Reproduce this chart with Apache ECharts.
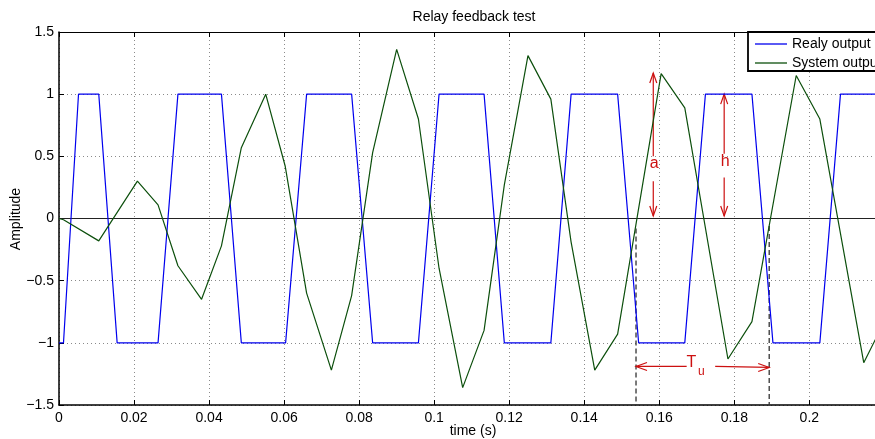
<!DOCTYPE html>
<html>
<head>
<meta charset="utf-8">
<script src="https://cdn.jsdelivr.net/npm/echarts@6/dist/echarts.min.js"></script>
<style>
html,body{margin:0;padding:0;background:#fff;}
#c{width:875px;height:439px;}
</style>
</head>
<body>
<div id="c"></div>
<script>
// ---- data ----
const relayT = [0, 0.0012, 0.0052, 0.0106, 0.0155, 0.0264, 0.0317, 0.0433, 0.0486, 0.0604, 0.0660, 0.0780, 0.0836, 0.0958, 0.1013, 0.1133, 0.1187, 0.1311, 0.1365, 0.1489, 0.1545, 0.1668, 0.1723, 0.1847, 0.1903, 0.2028, 0.2083, 0.2208];
const relayY = [-1, -1, 1, 1, -1, -1, 1, 1, -1, -1, 1, 1, -1, -1, 1, 1, -1, -1, 1, 1, -1, -1, 1, 1, -1, -1, 1, 1];
const systemT = [0, 0.0012, 0.0106, 0.0209, 0.0264, 0.0317, 0.0380, 0.0433, 0.0486, 0.0551, 0.0603, 0.0660, 0.0726, 0.0780, 0.0836, 0.0900, 0.0958, 0.1013, 0.1076, 0.1133, 0.1187, 0.1250, 0.1311, 0.1365, 0.1428, 0.1489, 0.1605, 0.1668, 0.1783, 0.1847, 0.1965, 0.2028, 0.2145, 0.2208];
const systemY = [0, -0.01, -0.18, 0.30, 0.11, -0.38, -0.65, -0.22, 0.57, 1.00, 0.42, -0.60, -1.22, -0.62, 0.53, 1.36, 0.80, -0.40, -1.36, -0.90, 0.27, 1.31, 0.96, -0.19, -1.22, -0.93, 1.165, 0.89, -1.13, -0.83, 1.15, 0.80, -1.16, -0.78];
const seriesNames = ['Realy output', 'System output'];
const xTicks = { min: 0, max: 0.2175, step: 0.02 };
const yTicks = { min: -1.5, max: 1.5, step: 0.5 };

// annotation anchors (data coordinates)
const arrowA = { x: 0.1584, y0: 0.02, y1: 1.17, gapLo: 0.30, gapHi: 0.50, label: 'a', ly: 0.44 };
const arrowH = { x: 0.1773, y0: 0.02, y1: 1.0, gapLo: 0.33, gapHi: 0.52, label: 'h', ly: 0.46 };
const tuArrow = { x0: 0.1538, x1: 0.1893, y: -1.19, gapL: 0.1673, gapR: 0.1749, lx: 0.1707 };
const dashLines = [[0.1538, -0.08], [0.1893, -0.06]];

const relayData = relayT.map((t, i) => [t, relayY[i]]);
const systemData = systemT.map((t, i) => [t, systemY[i]]);

const RED = '#cc1010';
const FONT = 'Liberation Sans, Arial, Helvetica, sans-serif';
const fmtNum = v => String(+v.toFixed(2)).replace('-', '\u2212');

function vHead(tip, dir, len, hw) {
  return [[tip[0] - hw, tip[1] - dir * len], tip, [tip[0] + hw, tip[1] - dir * len]];
}
function hHead(tip, dir, len, hw) {
  return [[tip[0] - dir * len, tip[1] - hw], tip, [tip[0] - dir * len, tip[1] + hw]];
}

function renderAnn(params, api) {
  const ch = [];
  const ls = { stroke: RED, lineWidth: 1.2, fill: null };
  ch.push({ type: 'polyline', shape: { points: [api.coord([xTicks.min, 0]), api.coord([xTicks.max, 0])] }, style: { stroke: '#222', lineWidth: 1, fill: null } });
  dashLines.forEach(d => {
    ch.push({ type: 'polyline', shape: { points: [api.coord([d[0], d[1]]), api.coord([d[0], yTicks.min])] }, style: { stroke: '#333', lineWidth: 1.3, lineDash: [5, 3], fill: null } });
  });
  [arrowA, arrowH].forEach(a => {
    const top = api.coord([a.x, a.y1]), bot = api.coord([a.x, a.y0]);
    const gh = api.coord([a.x, a.gapHi]), gl = api.coord([a.x, a.gapLo]);
    ch.push({ type: 'polyline', shape: { points: [top, gh] }, style: ls });
    ch.push({ type: 'polyline', shape: { points: [gl, bot] }, style: ls });
    ch.push({ type: 'polyline', shape: { points: vHead(top, -1, 10, 3.5) }, style: ls });
    ch.push({ type: 'polyline', shape: { points: vHead(bot, 1, 10, 3.5) }, style: ls });
    const lp = api.coord([a.x, a.ly]);
    ch.push({ type: 'text', x: lp[0] + 1, y: lp[1], style: { text: a.label, fill: RED, font: '16px ' + FONT, align: 'center', verticalAlign: 'middle' } });
  });
  const L = api.coord([tuArrow.x0, tuArrow.y]), R = api.coord([tuArrow.x1, tuArrow.y]);
  const gL = api.coord([tuArrow.gapL, tuArrow.y]), gR = api.coord([tuArrow.gapR, tuArrow.y]);
  ch.push({ type: 'polyline', shape: { points: [L, gL] }, style: ls });
  ch.push({ type: 'polyline', shape: { points: [gR, [R[0], R[1] + 1]] }, style: ls });
  ch.push({ type: 'polyline', shape: { points: hHead(L, -1, 11, 4) }, style: ls });
  ch.push({ type: 'polyline', shape: { points: hHead([R[0], R[1] + 1], 1, 11, 4) }, style: ls });
  const tp = api.coord([tuArrow.lx, tuArrow.y]);
  ch.push({ type: 'text', x: tp[0] - 8, y: tp[1] - 4, style: { text: 'T', fill: RED, font: '16px ' + FONT, align: 'center', verticalAlign: 'middle' } });
  ch.push({ type: 'text', x: tp[0] + 2, y: tp[1] + 5, style: { text: 'u', fill: RED, font: '12px ' + FONT, align: 'center', verticalAlign: 'middle' } });
  return { type: 'group', children: ch };
}

const gridLine = { show: true, lineStyle: { color: '#8a8a8a', type: [1, 3], width: 1 } };
const chart = echarts.init(document.getElementById('c'), null, { renderer: 'canvas' });
chart.setOption({
  animation: false,
  backgroundColor: '#fff',
  grid: { left: 59, top: 32, width: 816, height: 373, outerBoundsMode: 'none', containLabel: false, show: false },
  legend: {
    data: seriesNames, orient: 'vertical', left: 748, top: 33,
    icon: 'rect', itemWidth: 32, itemHeight: 1.3, itemGap: 5,
    padding: [4, 20, 4, 7],
    backgroundColor: 'transparent', borderWidth: 0,
    textStyle: { fontFamily: FONT, fontSize: 14, color: '#000' }
  },
  graphic: [
    { type: 'rect', z: 3, shape: { x: 748, y: 32, width: 200, height: 39 }, style: { fill: '#fff', stroke: '#000', lineWidth: 1.8 } },
    { type: 'text', x: 474, y: 17, style: { text: 'Relay feedback test', font: '14px ' + FONT, fill: '#000', align: 'center', verticalAlign: 'middle' } },
    { type: 'text', x: 473, y: 431, style: { text: 'time (s)', font: '14px ' + FONT, fill: '#000', align: 'center', verticalAlign: 'middle' } },
    { type: 'text', x: 16, y: 219, rotation: Math.PI / 2, style: { text: 'Amplitude', font: '14px ' + FONT, fill: '#000', align: 'center', verticalAlign: 'middle' } }
  ],
  xAxis: [{
    type: 'value', min: xTicks.min, max: xTicks.max, interval: xTicks.step,
    axisLine: { show: true, onZero: false, lineStyle: { color: '#000', width: 1.5 } },
    axisTick: { show: true, inside: true, length: 5, lineStyle: { color: '#000' } },
    axisLabel: { margin: 6, color: '#000', fontFamily: FONT, fontSize: 14, showMaxLabel: false, formatter: v => (v > 0.21 ? '' : fmtNum(v)) },
    splitLine: gridLine
  }, {
    type: 'value', position: 'top', min: xTicks.min, max: xTicks.max, interval: xTicks.step,
    axisLine: { show: true, onZero: false, lineStyle: { color: '#000', width: 1 } },
    axisTick: { show: true, inside: true, length: 5, lineStyle: { color: '#000' } },
    axisLabel: { show: false }, splitLine: { show: false }
  }],
  yAxis: [{
    type: 'value', min: yTicks.min, max: yTicks.max, interval: yTicks.step,
    axisLine: { show: true, onZero: false, lineStyle: { color: '#000', width: 1.5 } },
    axisTick: { show: true, inside: true, length: 5, lineStyle: { color: '#000' } },
    axisLabel: { margin: 5, color: '#000', fontFamily: FONT, fontSize: 14, formatter: v => fmtNum(v) },
    splitLine: gridLine
  }],
  series: [
    { type: 'custom', name: 'ann', renderItem: renderAnn, data: [[0]], clip: false, z: 1, silent: true },
    { type: 'line', name: seriesNames[0], data: relayData, symbol: 'none', lineStyle: { color: '#0000ee', width: 1.2 }, itemStyle: { color: '#0000ee' }, z: 2 },
    { type: 'line', name: seriesNames[1], data: systemData, symbol: 'none', lineStyle: { color: '#0c4f0c', width: 1.2 }, itemStyle: { color: '#0c4f0c' }, z: 2 }
  ]
});
</script>
</body>
</html>
